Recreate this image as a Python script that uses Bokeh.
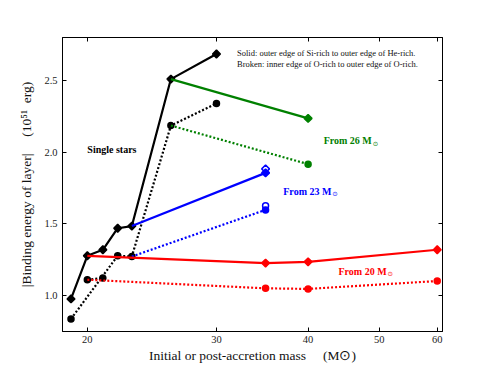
import numpy as np
from bokeh.plotting import figure
from bokeh.models import (Range1d, FixedTicker, PrintfTickFormatter, LogAxis,
                          LinearAxis, Label)
from bokeh.embed import file_html
from bokeh.resources import INLINE

# ---------------- data ----------------
single_x = [19, 20, 21, 22, 23, 26, 30]
single_solid = [0.977, 1.278, 1.32, 1.47, 1.485, 2.51, 2.685]
single_broken = [0.838, 1.111, 1.123, 1.278, 1.273, 2.186, 2.34]
single_broken_path_a = [1, 2]
single_broken_path_b = [0, 3, 4, 5, 6]

from26_x = [26, 40]
from26_solid = [2.51, 2.236]
from26_broken = [2.186, 1.917]

from23_x = [23, 35]
from23_solid = [1.485, 1.856]
from23_broken = [1.273, 1.598]
from23_alt_x = [35]
from23_alt_solid = [1.884]
from23_alt_broken = [1.626]

from20_x = [20, 35, 40, 60]
from20_solid = [1.278, 1.227, 1.236, 1.32]
from20_broken = [1.111, 1.051, 1.047, 1.102]

x_ticks = [20, 30, 40, 50, 60]
y_ticks = [1.0, 1.5, 2.0, 2.5]

FONT = "Liberation Serif"
BLACK, GREEN, BLUE, RED = "#000000", "#008000", "#0000ff", "#ff0000"

p = figure(x_axis_type="log", x_range=Range1d(18.5, 61), y_range=Range1d(0.75, 2.8),
           frame_width=380, frame_height=294, output_backend="svg",
           toolbar_location=None, min_border_left=62, min_border_right=42,
           min_border_top=37, min_border_bottom=37)
p.xgrid.visible = False
p.ygrid.visible = False
p.outline_line_color = "black"
p.outline_line_alpha = 1.0
p.outline_line_width = 1
p.background_fill_color = "white"
p.border_fill_color = "white"

def style_axis(ax):
    ax.major_tick_in = 4
    ax.major_tick_out = 0
    ax.minor_tick_in = 0
    ax.minor_tick_out = 0
    ax.axis_line_color = "black"
    ax.major_tick_line_color = "black"
    ax.major_label_text_font = FONT
    ax.major_label_text_font_size = "10.5px"
    ax.major_label_text_color = "#222222"
    ax.axis_label_text_font = FONT
    ax.axis_label_text_font_style = "normal"
    ax.axis_label_text_font_size = "13.5px"
    ax.axis_label_text_color = "#111111"

p.xaxis.ticker = FixedTicker(ticks=x_ticks, minor_ticks=[])
p.xaxis.formatter = PrintfTickFormatter(format="%d")
p.xaxis.major_label_standoff = 4
p.xaxis.axis_label = "Initial or post-accretion mass\u00a0\u00a0\u00a0\u00a0\u00a0(M\u2299)"
p.xaxis.axis_label_standoff = 2
p.yaxis.ticker = FixedTicker(ticks=y_ticks, minor_ticks=[])
p.yaxis.formatter = PrintfTickFormatter(format="%.1f")
p.yaxis.major_label_standoff = 5
p.yaxis.axis_label = "|Binding energy of layer|\u00a0\u00a0\u00a0\u00a0\u00a0(10\u2075\u00b9\u00a0\u00a0erg)"
p.yaxis.axis_label_standoff = 7
style_axis(p.xaxis[0])
style_axis(p.yaxis[0])

top = LogAxis(ticker=FixedTicker(ticks=x_ticks, minor_ticks=[]),
              major_label_overrides={t: " " for t in x_ticks})
style_axis(top)
top.major_label_standoff = 0
top.major_label_text_font_size = "1px"
p.add_layout(top, "above")
right = LinearAxis(ticker=FixedTicker(ticks=y_ticks, minor_ticks=[]),
                   major_label_overrides={t: " " for t in y_ticks})
style_axis(right)
right.major_label_standoff = 0
right.major_label_text_font_size = "1px"
p.add_layout(right, "right")

LW = 2.2
DASH = "2 2"

def diamonds(xs, ys, color, fill=True):
    p.scatter(xs, ys, marker="square", angle=np.pi / 4, size=5.5,
              fill_color=color if fill else "white", line_color=color, line_width=1.5)

def dots(xs, ys, color, fill=True):
    p.scatter(xs, ys, marker="circle", size=6,
              fill_color=color if fill else "white", line_color=color, line_width=1.5)

# single stars
p.line(single_x, single_solid, line_color=BLACK, line_width=LW)
for path in (single_broken_path_a, single_broken_path_b):
    p.line([single_x[i] for i in path], [single_broken[i] for i in path],
           line_color=BLACK, line_width=LW, line_dash=DASH)
diamonds(single_x, single_solid, BLACK)
dots(single_x, single_broken, BLACK)

# from 26
p.line(from26_x, from26_solid, line_color=GREEN, line_width=LW)
p.line(from26_x, from26_broken, line_color=GREEN, line_width=LW, line_dash=DASH)
diamonds(from26_x[1:], from26_solid[1:], GREEN)
dots(from26_x[1:], from26_broken[1:], GREEN)

# from 23
p.line(from23_x, from23_solid, line_color=BLUE, line_width=LW)
p.line(from23_x, from23_broken, line_color=BLUE, line_width=LW, line_dash=DASH)
diamonds(from23_alt_x, from23_alt_solid, BLUE, fill=False)
dots(from23_alt_x, from23_alt_broken, BLUE, fill=False)
diamonds(from23_x[1:], from23_solid[1:], BLUE)
dots(from23_x[1:], from23_broken[1:], BLUE)

# from 20
p.line(from20_x, from20_solid, line_color=RED, line_width=LW)
p.line(from20_x, from20_broken, line_color=RED, line_width=LW, line_dash=DASH)
diamonds(from20_x[1:], from20_solid[1:], RED)
dots(from20_x[1:], from20_broken[1:], RED)

def label(x, y, text, color="black", size="10px", style="normal", font=FONT,
          xo=0, yo=0, baseline="middle"):
    p.add_layout(Label(x=x, y=y, text=text, text_color=color, text_font=font,
                       text_font_size=size, text_font_style=style,
                       text_baseline=baseline, text_align="left",
                       x_offset=xo, y_offset=yo))

label(20, 2.02, "Single stars", style="bold")
label(42, 2.081, "From 26 M", color=GREEN, style="bold")
label(42, 2.081, "\u2299", color=GREEN, size="6.5px", font="DejaVu Sans", xo=49, yo=-3)
label(37, 1.729, "From 23 M", color=BLUE, style="bold")
label(37, 1.729, "\u2299", color=BLUE, size="6.5px", font="DejaVu Sans", xo=49, yo=-3)
label(44, 1.169, "From 20 M", color=RED, style="bold")
label(44, 1.169, "\u2299", color=RED, size="6.5px", font="DejaVu Sans", xo=49, yo=-3)

label(32, 2.695, "Solid: outer edge of Si-rich to outer edge of He-rich.", size="8.5px",
      color="#111111")
label(32, 2.618, "Broken: inner edge of O-rich to outer edge of O-rich.", size="8.5px",
      color="#111111")

open("out.html", "w").write(file_html(p, INLINE))
